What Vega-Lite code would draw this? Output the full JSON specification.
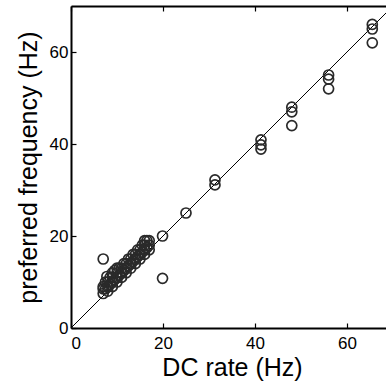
{
  "$schema": "https://vega.github.io/schema/vega-lite/v6.json",
  "width": 315,
  "height": 322,
  "autosize": {"type": "none"},
  "padding": {"left": 71, "top": 6, "right": 0, "bottom": 57},
  "background": "white",
  "config": {
    "view": {"stroke": null},
    "font": "Liberation Sans",
    "axis": {
      "domainColor": "black",
      "domainWidth": 2,
      "tickColor": "black",
      "tickWidth": 1.2,
      "tickSize": -5,
      "labelColor": "black",
      "titleColor": "black",
      "labelFontSize": 17,
      "titleFontSize": 25,
      "titleFontWeight": "normal",
      "grid": false
    }
  },
  "datasets": {
    "pts": [
      {"dc": 7, "pf": 7.5}, {"dc": 7, "pf": 8.5}, {"dc": 7, "pf": 9},
      {"dc": 7.5, "pf": 8.5}, {"dc": 7.5, "pf": 10},
      {"dc": 8, "pf": 8}, {"dc": 8, "pf": 9}, {"dc": 8, "pf": 10}, {"dc": 7.8, "pf": 11.2},
      {"dc": 8.5, "pf": 9.5}, {"dc": 8.5, "pf": 11},
      {"dc": 9, "pf": 9}, {"dc": 9, "pf": 10}, {"dc": 9, "pf": 11}, {"dc": 9, "pf": 12},
      {"dc": 9.5, "pf": 10.5}, {"dc": 9.5, "pf": 12.5},
      {"dc": 10, "pf": 10}, {"dc": 10, "pf": 11}, {"dc": 10, "pf": 12}, {"dc": 10, "pf": 13},
      {"dc": 10.5, "pf": 11.5}, {"dc": 10.5, "pf": 13},
      {"dc": 11, "pf": 11}, {"dc": 11, "pf": 12}, {"dc": 11, "pf": 13},
      {"dc": 11.5, "pf": 12.5}, {"dc": 11.5, "pf": 14},
      {"dc": 12, "pf": 12}, {"dc": 12, "pf": 13}, {"dc": 12, "pf": 14},
      {"dc": 12.5, "pf": 13.5}, {"dc": 12.5, "pf": 15},
      {"dc": 13, "pf": 13}, {"dc": 13, "pf": 14}, {"dc": 13, "pf": 15},
      {"dc": 13.5, "pf": 14.5}, {"dc": 13.5, "pf": 16},
      {"dc": 14, "pf": 14}, {"dc": 14, "pf": 15}, {"dc": 14, "pf": 16},
      {"dc": 14.5, "pf": 15.5}, {"dc": 14.5, "pf": 17},
      {"dc": 15, "pf": 15}, {"dc": 15, "pf": 16}, {"dc": 15, "pf": 17},
      {"dc": 15.5, "pf": 16.5}, {"dc": 15.5, "pf": 18},
      {"dc": 16, "pf": 16}, {"dc": 16, "pf": 17}, {"dc": 16, "pf": 18}, {"dc": 16, "pf": 19},
      {"dc": 16.5, "pf": 17.5}, {"dc": 16.5, "pf": 19},
      {"dc": 17, "pf": 17}, {"dc": 17, "pf": 18}, {"dc": 17, "pf": 19},
      {"dc": 7, "pf": 15},
      {"dc": 19.9, "pf": 20}, {"dc": 19.9, "pf": 10.8},
      {"dc": 25, "pf": 25},
      {"dc": 31.3, "pf": 32.2}, {"dc": 31.3, "pf": 31.1},
      {"dc": 41.3, "pf": 40.9}, {"dc": 41.3, "pf": 39.8}, {"dc": 41.3, "pf": 38.9},
      {"dc": 48, "pf": 48}, {"dc": 48, "pf": 47}, {"dc": 48, "pf": 44},
      {"dc": 56, "pf": 55}, {"dc": 56, "pf": 54.1}, {"dc": 56, "pf": 52},
      {"dc": 65.5, "pf": 66}, {"dc": 65.5, "pf": 65}, {"dc": 65.5, "pf": 62}
    ],
    "diag": [{"dc": 0, "pf": 0}, {"dc": 70, "pf": 70}]
  },
  "layer": [
    {
      "data": {"name": "diag"},
      "mark": {"type": "line", "color": "black", "strokeWidth": 1, "clip": true},
      "encoding": {
        "x": {"field": "dc", "type": "quantitative",
              "scale": {"domain": [0, 68.48], "nice": false, "zero": false},
              "axis": {"orient": "top", "labels": false, "title": null, "values": [0, 20, 40, 60]}},
        "y": {"field": "pf", "type": "quantitative",
              "scale": {"domain": [0, 70], "nice": false},
              "axis": {"orient": "left", "values": [0, 20, 40, 60], "title": "preferred frequency (Hz)", "labelPadding": 8, "titlePadding": 8}}
      }
    },
    {
      "data": {"name": "pts"},
      "mark": {"type": "point", "shape": "circle", "filled": false, "size": 100, "stroke": "#2a2a2a", "strokeWidth": 1.7, "opacity": 1},
      "encoding": {
        "x": {"field": "dc", "type": "quantitative",
              "axis": {"orient": "bottom", "values": [0, 20, 40, 60], "title": "DC rate (Hz)", "labelPadding": 12, "titlePadding": 4, "titleX": 161}},
        "y": {"field": "pf", "type": "quantitative"}
      }
    }
  ],
  "resolve": {"axis": {"x": "independent"}}
}
